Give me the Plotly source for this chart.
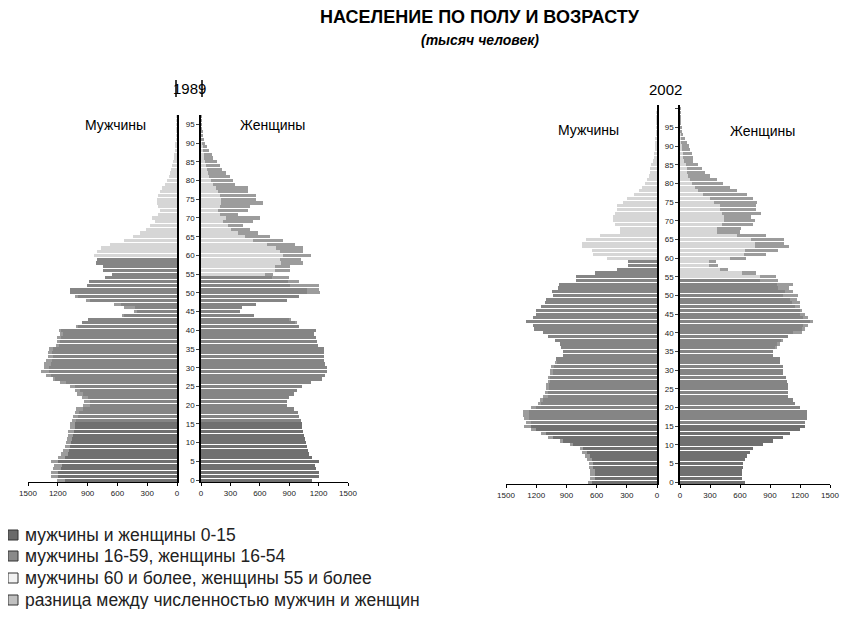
import plotly.graph_objects as go

# возраст 0..100, тысяч человек
ages = list(range(101))

male_1989 = [1205, 1265, 1265, 1250, 1235, 1265, 1200, 1165, 1145, 1130,
             1115, 1110, 1095, 1095, 1080, 1080, 1060, 1045, 1030, 1020,
             945, 940, 960, 1010, 1030, 1080, 1180, 1250, 1320, 1370,
             1335, 1335, 1320, 1300, 1300, 1285, 1215, 1205, 1205, 1180,
             1180, 1010, 960, 900, 550, 430, 530, 630, 920, 1030,
             1080, 1080, 910, 890, 720, 650, 750, 750, 820, 805,
             840, 805, 770, 670, 530, 445, 375, 310, 275, 225,
             255, 190, 170, 190, 205, 205, 190, 170, 155, 120,
             105, 85, 75, 62, 51, 41, 34, 27, 21, 17,
             14, 10, 8, 6, 4, 3, 2, 1, 0, 0, 0]
female_1989 = [1130, 1200, 1200, 1170, 1160, 1200, 1130, 1100, 1090, 1080,
               1070, 1060, 1050, 1040, 1030, 1030, 1020, 1000, 985, 950,
               880, 880, 900, 950, 980, 1030, 1120, 1230, 1270, 1290,
               1290, 1270, 1260, 1250, 1260, 1250, 1190, 1180, 1170, 1150,
               1170, 1000, 970, 920, 540, 400, 420, 560, 880, 1000,
               1210, 1200, 1200, 1000, 900, 735, 905, 905, 1040, 1025,
               1125, 1040, 1040, 955, 835, 700, 585, 500, 430, 530,
               600, 380, 480, 500, 635, 565, 565, 480, 480, 345,
               330, 295, 260, 210, 195, 160, 125, 108, 85, 58,
               41, 30, 22, 15, 10, 7, 4, 2, 0, 0, 0]
male_2002 = [690, 667, 667, 667, 680, 673, 700, 717, 750, 767,
             867, 967, 1083, 1150, 1250, 1317, 1300, 1317, 1333, 1333,
             1250, 1183, 1167, 1133, 1117, 1100, 1100, 1083, 1083, 1067,
             1067, 1050, 1017, 1000, 933, 933, 950, 967, 1017, 1083,
             1133, 1217, 1233, 1300, 1233, 1200, 1200, 1150, 1117, 1100,
             1030, 1046, 980, 970, 800, 800, 615, 400, 285, 285,
             500, 640, 650, 750, 750, 705, 565, 370, 370, 415,
             435, 435, 415, 400, 400, 335, 300, 233, 183, 150,
             117, 100, 83, 73, 67, 57, 43, 33, 27, 20,
             17, 13, 10, 7, 5, 4, 3, 2, 1, 1, 0]
female_2002 = [650, 617, 617, 617, 633, 633, 650, 667, 700, 733,
               833, 933, 1033, 1100, 1200, 1250, 1250, 1267, 1267, 1267,
               1200, 1150, 1133, 1083, 1083, 1077, 1077, 1067, 1060, 1033,
               1033, 1033, 1000, 1000, 933, 933, 967, 1000, 1033, 1083,
               1217, 1250, 1283, 1333, 1283, 1250, 1217, 1200, 1200, 1167,
               1175, 1126, 1093, 1126, 977, 960, 762, 480, 381, 364,
               662, 861, 977, 1093, 1043, 1043, 861, 596, 613, 728,
               745, 712, 811, 762, 762, 767, 733, 667, 567, 500,
               433, 367, 300, 250, 217, 183, 133, 133, 117, 100,
               93, 67, 50, 33, 23, 13, 8, 5, 3, 2, 1]

x_ticks = [0, 300, 600, 900, 1200, 1500]
age_ticks_1989 = list(range(0, 96, 5))
age_ticks_2002 = list(range(0, 101, 5))
age_text_2002 = [str(a) for a in range(0, 96, 5)] + [""]

legend_names = ["мужчины и женщины 0-15",
                "мужчины 16-59, женщины 16-54",
                "мужчины 60 и более, женщины 55 и более",
                "разница между численностью мужчин и женщин"]
colors = ["#707070", "#858585", "#d6d6d6", "#9c9c9c"]
swatch_colors = ["#6a6a6a", "#8a8a8a", "#f2f2f2", "#c0c0c0"]

# page body has an 8px margin, so the figure is a bit smaller than the window
OFF = 8
W, H = 849 - 2 * OFF, 617 - 2 * OFF


def px_x(p):
    return (p - OFF) / W


def px_y(p):
    return 1 - (p - OFF) / H


def group(age, sex):
    if age <= 15:
        return 0
    if (sex == "m" and age <= 59) or (sex == "f" and age <= 54):
        return 1
    return 2


fig = go.Figure()


def add_side(values, other, sex, xa, ya):
    common = [min(v, o) for v, o in zip(values, other)]
    for g in range(3):
        seg = [c if group(a, sex) == g else None for a, c in zip(ages, common)]
        fig.add_trace(go.Bar(y=ages, x=seg, orientation="h", xaxis=xa, yaxis=ya,
                             marker=dict(color=colors[g], line=dict(width=0)),
                             showlegend=False, hoverinfo="skip"))
    diff = [v - o if v > o else None for v, o in zip(values, other)]
    fig.add_trace(go.Bar(y=ages, x=diff, orientation="h", xaxis=xa, yaxis=ya,
                         marker=dict(color=colors[3], line=dict(width=0)),
                         showlegend=False, hoverinfo="skip"))


add_side(male_1989, female_1989, "m", "x", "y")
add_side(female_1989, male_1989, "f", "x2", "y2")
add_side(male_2002, female_2002, "m", "x3", "y3")
add_side(female_2002, male_2002, "f", "x4", "y4")

tick_font = dict(family="Liberation Sans", size=8, color="#222")
xbase = dict(tickvals=x_ticks, ticks="outside", ticklen=3, tickcolor="black",
             showline=True, linecolor="black", linewidth=1, showgrid=False,
             zeroline=False, tickfont=tick_font, fixedrange=True, automargin=False)
ybase = dict(showgrid=False, zeroline=False, showline=True, linecolor="black",
             linewidth=1.5, fixedrange=True, automargin=False)

dom89 = [px_y(482), px_y(115)]
dom02 = [px_y(484), px_y(105)]

fig.update_layout(
    width=W, height=H,
    margin=dict(l=0, r=0, t=0, b=0, autoexpand=False),
    paper_bgcolor="white", plot_bgcolor="white",
    barmode="stack", bargap=0.15,
    showlegend=False,
    font=dict(family="Liberation Sans", color="black"),
    xaxis=dict(xbase, domain=[px_x(28), px_x(177)], range=[1500, 0], anchor="y"),
    yaxis=dict(ybase, domain=dom89, range=[-0.5, 97.5], side="right",
               showticklabels=False, anchor="x"),
    xaxis2=dict(xbase, domain=[px_x(201), px_x(348)], range=[0, 1500], anchor="y2"),
    yaxis2=dict(ybase, domain=dom89, range=[-0.5, 97.5], anchor="x2",
                tickvals=age_ticks_1989, ticks="outside", ticklen=3,
                tickfont=tick_font),
    xaxis3=dict(xbase, domain=[px_x(506), px_x(657)], range=[1500, 0], anchor="y3"),
    yaxis3=dict(ybase, domain=dom02, range=[-0.5, 101], side="right",
                showticklabels=False, anchor="x3"),
    xaxis4=dict(xbase, domain=[px_x(680), px_x(830)], range=[0, 1500], anchor="y4"),
    yaxis4=dict(ybase, domain=dom02, range=[-0.5, 101], anchor="x4",
                tickvals=age_ticks_2002, ticktext=age_text_2002,
                ticks="outside", ticklen=3, tickfont=tick_font),
)

ann = [
    ("<b>НАСЕЛЕНИЕ ПО ПОЛУ И ВОЗРАСТУ</b>", 480, 17, 18),
    ("<b><i>(тысяч человек)</i></b>", 480, 40, 14),
    ("1989", 189, 88, 15),
    ("2002", 665, 89, 15),
    ("Мужчины", 115, 125, 14),
    ("Женщины", 272, 125, 14),
    ("Мужчины", 588, 130, 14),
    ("Женщины", 762, 131, 14),
]
for text, x, y, s in ann:
    fig.add_annotation(text=text, x=px_x(x), y=px_y(y), xref="paper", yref="paper",
                       xanchor="center", yanchor="middle",
                       showarrow=False, font=dict(size=s, color="black"))

# legend drawn by hand: square swatch + text
legend_rows = [535, 556, 578, 600]
for name, c, yy in zip(legend_names, swatch_colors, legend_rows):
    fig.add_shape(type="rect", xref="paper", yref="paper",
                  x0=px_x(8), x1=px_x(18), y0=px_y(yy + 5), y1=px_y(yy - 5),
                  fillcolor=c, line=dict(color="#333", width=1))
    fig.add_annotation(text=name, x=px_x(23), y=px_y(yy), xref="paper", yref="paper",
                       xanchor="left", yanchor="middle", showarrow=False,
                       font=dict(size=17.5, color="#222"))

# short strokes crossing the "1989" label, as in the scan
for xp in (176, 202):
    fig.add_shape(type="line", xref="paper", yref="paper",
                  x0=px_x(xp), x1=px_x(xp), y0=px_y(97), y1=px_y(80),
                  line=dict(color="black", width=1.5))

fig.write_html("out.html")
